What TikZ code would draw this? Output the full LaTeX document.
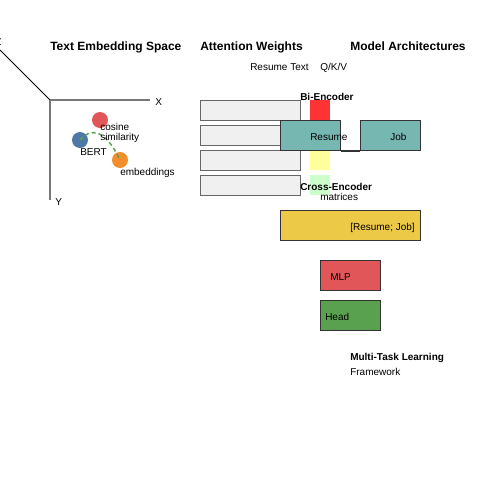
\documentclass[tikz,border=0pt]{standalone}
\usepackage{fontspec}
\setmainfont{Liberation Sans}
\definecolor{axisgray}{HTML}{777777}
\definecolor{boxgray}{HTML}{666666}
\definecolor{attfill}{HTML}{F0F0F0}
\definecolor{darkline}{HTML}{333333}
\definecolor{tred}{HTML}{E15759}
\definecolor{tblue}{HTML}{4E79A7}
\definecolor{torange}{HTML}{F28E2B}
\definecolor{tgreen}{HTML}{59A14F}
\definecolor{tteal}{HTML}{76B7B2}
\definecolor{tyellow}{HTML}{EDC948}
\definecolor{hred}{HTML}{FF3333}
\definecolor{hyellow}{HTML}{FFFF99}
\definecolor{hgreen}{HTML}{CCFFCC}
\begin{document}
\begin{tikzpicture}[x=0.75pt,y=-0.75pt,
  lbl/.style={anchor=base west,inner sep=0,font=\fontsize{7.5pt}{9pt}\selectfont},
  ttl/.style={anchor=base west,inner sep=0,font=\fontsize{9pt}{11pt}\selectfont\bfseries},
  sub/.style={anchor=base west,inner sep=0,font=\fontsize{7.5pt}{9pt}\selectfont\bfseries},
  axisline/.style={draw=axisgray,line width=1.5pt},
  attbox/.style={draw=boxgray,fill=attfill,line width=1pt,minimum width=75pt,minimum height=15pt,inner sep=0,anchor=north west},
  modbox/.style={draw=darkline,line width=0.75pt,inner sep=0,anchor=north west,minimum height=22.5pt},
  sqbox/.style={inner sep=0,minimum size=15pt,anchor=north west},
  dotnode/.style={circle,inner sep=0,minimum size=12pt}]
\useasboundingbox (0,0) rectangle (500,500);
% titles
\node[ttl] (t1) at (50,50) {Text Embedding Space};
\node[ttl] (t2) at (200,50) {Attention Weights};
\node[ttl] (t3) at (350,50) {Model Architectures};
% axes
\coordinate (O) at (50,100);
\coordinate (xend) at (150,100);
\coordinate (yend) at (50,200);
\coordinate (zend) at (0,50);
\draw[black,line width=0.75pt] (O) -- (zend);
\draw[axisline] (O) -- (xend);
\draw[axisline] (O) -- (yend);
\node[lbl] (xl) at (155,105) {X};
\node[lbl] (yl) at (55,205) {Y};
\node[lbl] (zl) at (-5,45) {Z};
% embedding points
\node[dotnode,fill=tred] (pr) at (100,120) {};
\node[dotnode,fill=tblue] (pb) at (80,140) {};
\node[dotnode,fill=torange] (po) at (120,160) {};
\draw[tgreen,line width=1.1pt,dash pattern=on 3pt off 2.25pt] (pb.center) .. controls (90,128) and (105,128) .. (po.center);
\node[lbl] (cos) at (100,130) {cosine};
\node[lbl] (sim) at (100,140) {similarity};
\node[lbl] (bert) at (80,155) {BERT};
\node[lbl] (emb) at (120,175) {embeddings};
% attention weights
\node[lbl] (rt) at (250,70) {Resume Text};
\node[lbl] (qkv) at (320,70) {Q/K/V};
\node[attbox] (a1) at (200,100) {};
\node[attbox] (a2) at (200,125) {};
\node[attbox] (a3) at (200,150) {};
\node[attbox] (a4) at (200,175) {};
\node[sqbox,fill=hred] (s1) at (310,100) {};
\node[sqbox,fill=hyellow] (s3) at (310,150) {};
\node[sqbox,fill=hgreen] (s4) at (310,175) {};
% model architectures
\node[modbox,fill=tteal,minimum width=45pt] (resume) at (280,120) {};
\node[modbox,fill=tteal,minimum width=45pt] (job) at (360,120) {};
\draw[darkline,line width=1.3pt] (resume.south east) -- (job.south west);
\node[sub] (bi) at (300,100) {Bi-Encoder};
\node[lbl] (resl) at (310,140) {Resume};
\node[lbl] (jobl) at (390,140) {Job};
\node[sub] (cross) at (300,190) {Cross-Encoder};
\node[lbl] (mat) at (320,200) {matrices};
\node[modbox,fill=tyellow,minimum width=105pt] (concat) at (280,210) {};
\node[lbl] (concatl) at (350,230) {[Resume; Job]};
\node[modbox,fill=tred,minimum width=45pt] (mlp) at (320,260) {};
\node[lbl] (mlpl) at (330,280) {MLP};
\node[modbox,fill=tgreen,minimum width=45pt] (head) at (320,300) {};
\node[lbl] (headl) at (325,320) {Head};
\node[sub] (mtl) at (350,360) {Multi-Task Learning};
\node[lbl] (fw) at (350,375) {Framework};
\end{tikzpicture}
\end{document}
